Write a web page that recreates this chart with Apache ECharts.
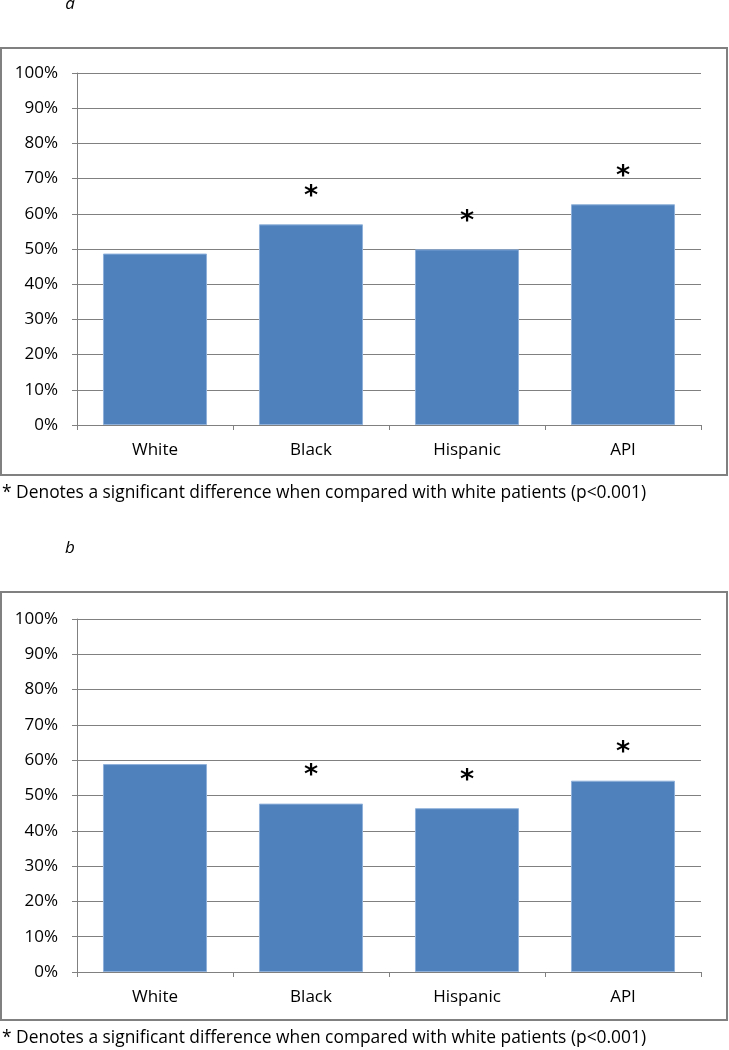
<!DOCTYPE html>
<html>
<head>
<meta charset="utf-8">
<script src="https://cdn.jsdelivr.net/npm/echarts@6/dist/echarts.min.js"></script>
<style>
  html, body { margin: 0; padding: 0; background: #fff; }
  #chart { width: 729px; height: 1050px; }
</style>
</head>
<body>
<div id="chart"></div>
<script>
const categories = ['White', 'Black', 'Hispanic', 'API'];
const valuesA = [48.7, 57.0, 49.9, 62.7];
const valuesB = [58.9, 47.7, 46.4, 54.2];
const sigA = [false, true, true, true];
const sigB = [false, true, true, true];
const yTicks = [0, 10, 20, 30, 40, 50, 60, 70, 80, 90, 100];
const panelLabels = ['a', 'b'];
const footnote = '* Denotes a significant difference when compared with white patients (p<0.001)';

const FONT = '"Open Sans", "Noto Sans", sans-serif';
const GRAY = '#808080';

const chart = echarts.init(document.getElementById('chart'), null, { renderer: 'canvas' });

function xAxis(idx) {
  return {
    type: 'category', gridIndex: idx, data: categories,
    axisLine: { show: true, lineStyle: { color: GRAY, width: 1 } },
    axisTick: { show: true, length: 5, alignWithLabel: false, lineStyle: { color: GRAY } },
    axisLabel: { color: '#000', fontFamily: FONT, fontSize: 17, margin: 17 }
  };
}
function yAxis(idx) {
  return {
    type: 'value', gridIndex: idx, min: 0, max: 100, interval: 10,
    axisLine: { show: true, lineStyle: { color: GRAY, width: 1 } },
    axisTick: { show: true, length: 5, lineStyle: { color: GRAY } },
    axisLabel: { color: '#000', fontFamily: FONT, fontSize: 17, margin: 19,
      formatter: v => (yTicks.includes(v) ? v + '%' : '') },
    splitLine: { show: true, lineStyle: { color: GRAY, width: 1 } }
  };
}
function series(idx, vals, sig) {
  return {
    type: 'bar', xAxisIndex: idx, yAxisIndex: idx,
    data: vals, barCategoryGap: '33.3%',
    itemStyle: { color: '#4f81bd', borderColor: '#8fb1da', borderWidth: 1 },
    label: {
      show: true, position: 'top', distance: 14,
      formatter: p => (sig[p.dataIndex] ? '*' : ''),
      fontFamily: '"DejaVu Sans", sans-serif', fontSize: 27, fontWeight: 'bold', color: '#000'
    },
    silent: true, animation: false
  };
}

chart.setOption({
  animation: false,
  backgroundColor: '#fff',
  grid: [
    { left: 77, right: 28, top: 73, height: 352 },
    { left: 77, right: 28, top: 619, height: 353 }
  ],
  xAxis: [xAxis(0), xAxis(1)],
  yAxis: [yAxis(0), yAxis(1)],
  series: [series(0, valuesA, sigA), series(1, valuesB, sigB)],
  graphic: [
    { type: 'rect', shape: { x: 1, y: 48, width: 726, height: 427 },
      style: { fill: 'none', stroke: GRAY, lineWidth: 2 }, silent: true, z: -1 },
    { type: 'rect', shape: { x: 1, y: 592, width: 726, height: 428 },
      style: { fill: 'none', stroke: GRAY, lineWidth: 2 }, silent: true, z: -1 },
    { type: 'text', x: 70, y: 4, style: { text: panelLabels[0], font: 'italic 17px ' + FONT,
      fill: '#000', align: 'center', verticalAlign: 'middle' } },
    { type: 'text', x: 70, y: 548, style: { text: panelLabels[1], font: 'italic 17px ' + FONT,
      fill: '#000', align: 'center', verticalAlign: 'middle' } },
    { type: 'text', x: 2, y: 493, style: { text: footnote, font: '17.4px ' + FONT,
      fill: '#000', align: 'left', verticalAlign: 'middle' } },
    { type: 'text', x: 2, y: 1038, style: { text: footnote, font: '17.4px ' + FONT,
      fill: '#000', align: 'left', verticalAlign: 'middle' } }
  ]
});
</script>
</body>
</html>
